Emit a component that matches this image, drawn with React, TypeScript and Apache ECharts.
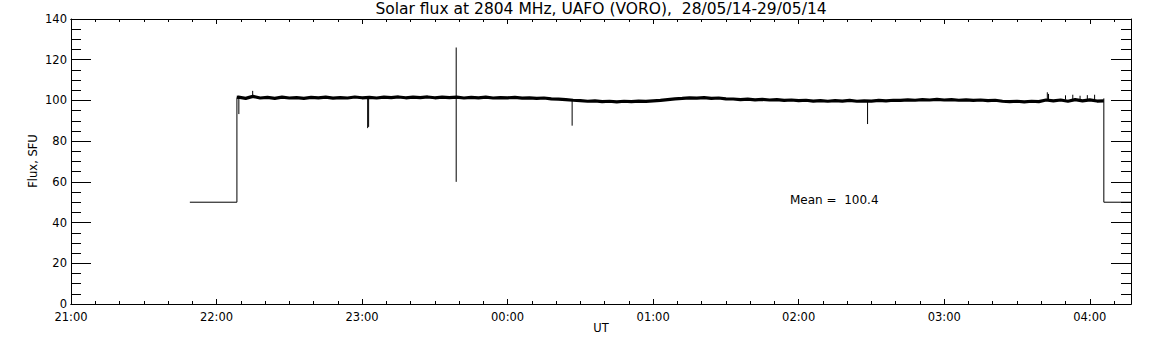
import React, { useEffect, useRef } from "react";
import * as echarts from "echarts";

// Time in minutes after 21:00 UT, flux in SFU
const titleText = "Solar flux at 2804 MHz, UAFO (VORO),  28/05/14-29/05/14";
const xName = "UT";
const yName = "Flux, SFU";
const meanText = "Mean =  100.4";

const yTicks = [0, 20, 40, 60, 80, 100, 120, 140];
const xMin = 0;
const xMax = 437;

// main noisy trace (minutes, SFU)
const bandPoints: [number, number][] = [
  [68.4, 101.5], [69, 101.6], [72, 101.0], [75, 102.0], [78, 101.2], [81, 101.5], [84, 101.0],
  [87, 101.6], [90, 101.2], [93, 101.4], [96, 101.0], [99, 101.5], [102, 101.3],
  [105, 101.6], [108, 101.1], [111, 101.4], [114, 101.2], [117, 101.7], [120, 101.3],
  [123, 101.5], [126, 101.2], [129, 101.6], [132, 101.4], [135, 101.7], [138, 101.3],
  [141, 101.6], [144, 101.4], [147, 101.7], [150, 101.3], [153, 101.6], [156, 101.4],
  [159, 101.6], [162, 101.2], [165, 101.5], [168, 101.3], [171, 101.6], [174, 101.2],
  [177, 101.4], [180, 101.3], [183, 101.5], [186, 101.1], [189, 101.3], [192, 101.0],
  [195, 101.2], [198, 100.8], [201, 100.6], [204, 100.4], [207, 100.1], [210, 99.9],
  [213, 99.6], [216, 99.8], [219, 99.4], [222, 99.6], [225, 99.3], [228, 99.6],
  [231, 99.4], [234, 99.7], [237, 99.5], [240, 99.8], [243, 100.0], [246, 100.4],
  [249, 100.8], [252, 101.0], [255, 101.3], [258, 101.1], [261, 101.4], [264, 101.0],
  [267, 101.2], [270, 100.8], [273, 100.7], [276, 100.4], [279, 100.6], [282, 100.3],
  [285, 100.5], [288, 100.2], [291, 100.4], [294, 100.0], [297, 100.2], [300, 99.9],
  [303, 100.1], [306, 99.7], [309, 99.9], [312, 99.6], [315, 99.9], [318, 99.7],
  [321, 100.0], [324, 99.6], [327, 99.8], [330, 99.7], [333, 100.0], [336, 99.8],
  [339, 100.1], [342, 100.0], [345, 100.3], [348, 100.1], [351, 100.4], [354, 100.2],
  [357, 100.5], [360, 100.2], [363, 100.4], [366, 100.1], [369, 100.3], [372, 100.0],
  [375, 100.2], [378, 99.9], [381, 100.1], [384, 99.6], [387, 99.4], [390, 99.6],
  [393, 99.3], [396, 99.6], [399, 99.4], [402, 100.2], [405, 99.8], [408, 100.2],
  [411, 99.6], [414, 100.4], [417, 99.8], [420, 100.3], [423, 99.7], [425.8, 99.8],
];

// off-band segments: receiver idle level at start and end
const startSegment: [number, number][] = [[49, 50], [68.4, 50], [68.4, 101.5]];
const endSegment: [number, number][] = [[425.8, 101.0], [425.8, 50], [437, 50]];

// isolated spikes: time, base, tip
const spikeTimes = [69.2, 74.9, 122.3, 122.7, 158.8, 206.6, 328.4, 402.5, 403.0, 410, 413, 416, 419, 422];
const spikeBase = [101.2, 101.8, 101.3, 101.3, 60, 100.5, 99.8, 100.0, 100.0, 100.4, 100.5, 100.4, 100.5, 100.4];
const spikeTip = [93.3, 104.7, 86.4, 87.0, 126, 87.6, 88.4, 104.0, 103.2, 102.5, 102.8, 102.3, 102.6, 102.8];

const FONT = "DejaVu Sans";

function fmtTime(v: number): string {
  const h = (21 + Math.round(v / 60)) % 24;
  return (h < 10 ? "0" : "") + h + ":00";
}

export default function App() {
  const ref = useRef<HTMLDivElement>(null);
  useEffect(() => {
    if (!ref.current) return;
    const chart = echarts.init(ref.current, null, { renderer: "svg" });
    const black = "#000";
    const baseX = {
      type: "value",
      min: xMin,
      max: xMax,
      splitLine: { show: false },
      axisLine: { show: true, onZero: false, lineStyle: { color: black, width: 1 } },
    };
    const baseY = {
      type: "value",
      min: yTicks[0],
      max: yTicks[yTicks.length - 1],
      interval: 20,
      splitLine: { show: false },
      axisLine: { show: true, onZero: false, lineStyle: { color: black } },
      axisTick: { show: true, inside: true, length: 20, lineStyle: { color: black } },
      minorTick: { show: true, splitNumber: 4, length: 10, lineStyle: { color: black } },
    };
    const lineSeries = (data: [number, number][], width: number) => ({
      type: "line",
      data,
      showSymbol: false,
      symbol: "none",
      lineStyle: { color: black, width },
      itemStyle: { color: black },
      z: 3,
    });
    const spikes = spikeTimes.map((t, i) =>
      lineSeries(
        [
          [t, spikeBase[i]],
          [t, spikeTip[i]],
        ],
        1
      )
    );
    chart.setOption({
      animation: false,
      backgroundColor: "#fff",
      grid: { left: 71, right: 21, top: 19, bottom: 41, containLabel: false },
      xAxis: [
        {
          ...baseX,
          position: "bottom",
          interval: 60,
          axisTick: { show: true, inside: true, length: 5, lineStyle: { color: black } },
          axisLabel: {
            show: true,
            margin: 7,
            color: black,
            fontFamily: FONT,
            fontSize: 11.5,
            showMaxLabel: false,
            formatter: (v: number) => (v % 60 === 0 ? fmtTime(v) : ""),
          },
        },
        {
          ...baseX,
          position: "bottom",
          interval: 10,
          axisTick: { show: true, inside: true, length: 3, lineStyle: { color: black } },
          axisLabel: { show: false },
        },
        {
          ...baseX,
          position: "top",
          interval: 60,
          axisTick: { show: true, inside: true, length: 5, lineStyle: { color: black } },
          axisLabel: { show: false },
        },
        {
          ...baseX,
          position: "top",
          interval: 10,
          axisTick: { show: true, inside: true, length: 3, lineStyle: { color: black } },
          axisLabel: { show: false },
        },
      ],
      yAxis: [
        {
          ...baseY,
          position: "left",
          axisLabel: { margin: 4, color: black, fontFamily: FONT, fontSize: 11.5 },
        },
        {
          ...baseY,
          position: "right",
          axisLabel: { show: false },
        },
      ],
      series: [
        lineSeries(bandPoints, 3.2),
        lineSeries(startSegment, 1),
        lineSeries(endSegment, 1),
        ...spikes,
      ],
      graphic: [
        {
          type: "text",
          x: 601,
          y: 9,
          style: {
            text: titleText,
            fill: black,
            font: `15.5px "${FONT}"`,
            align: "center",
            verticalAlign: "middle",
          },
        },
        {
          type: "text",
          x: 601,
          y: 328,
          style: {
            text: xName,
            fill: black,
            font: `11.5px "${FONT}"`,
            align: "center",
            verticalAlign: "middle",
          },
        },
        {
          type: "text",
          x: 33,
          y: 161,
          rotation: Math.PI / 2,
          style: {
            text: yName,
            fill: black,
            font: `11.5px "${FONT}"`,
            align: "center",
            verticalAlign: "middle",
          },
        },
        {
          type: "text",
          x: 790,
          y: 200,
          style: {
            text: meanText,
            fill: black,
            font: `12px "${FONT}"`,
            align: "left",
            verticalAlign: "middle",
          },
        },
      ],
    });
    return () => chart.dispose();
  }, []);
  return (
    <div
      ref={ref}
      style={{ position: "fixed", left: 0, top: 0, width: 1152, height: 345, background: "#fff" }}
    />
  );
}
